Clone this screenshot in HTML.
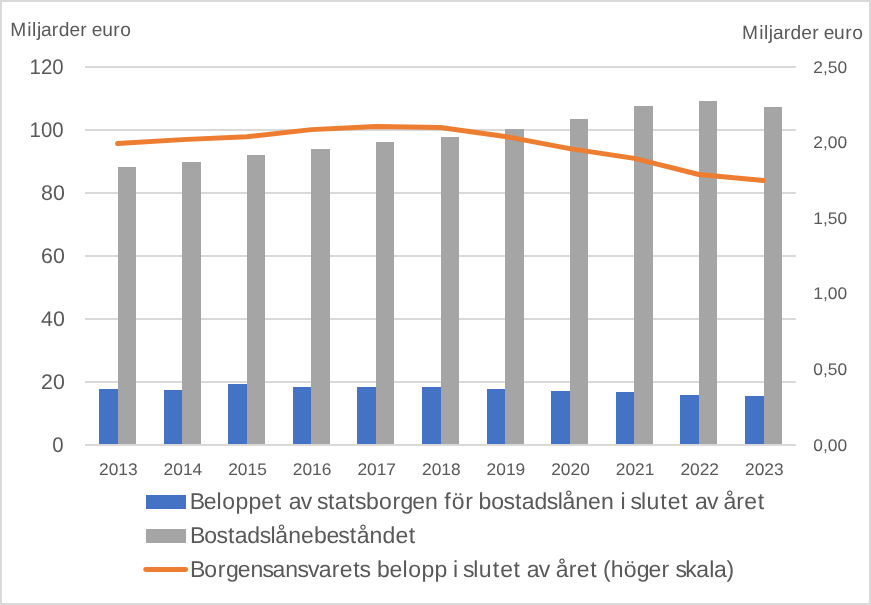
<!DOCTYPE html>
<html lang="sv"><head><meta charset="utf-8"><title>Miljarder euro</title>
<style>
html,body{margin:0;padding:0;background:#fff;}
body{width:871px;height:605px;overflow:hidden;}
svg{display:block;}
text{font-family:"Liberation Sans",sans-serif;fill:#595959;text-rendering:geometricPrecision;}
</style></head><body>
<svg width="871" height="605" viewBox="0 0 871 605">
<rect x="0" y="0" width="871" height="605" fill="#fff"/>
<rect x="1" y="1" width="869" height="603" fill="none" stroke="#D9D9D9" stroke-width="2"/>
<g stroke="#D9D9D9" stroke-width="2" fill="none">
<line x1="85.00" y1="445.00" x2="795.80" y2="445.00"/>
<line x1="85.00" y1="382.00" x2="795.80" y2="382.00"/>
<line x1="85.00" y1="319.00" x2="795.80" y2="319.00"/>
<line x1="85.00" y1="256.00" x2="795.80" y2="256.00"/>
<line x1="85.00" y1="193.00" x2="795.80" y2="193.00"/>
<line x1="85.00" y1="130.00" x2="795.80" y2="130.00"/>
<line x1="85.00" y1="67.00" x2="795.80" y2="67.00"/>
</g>
<g fill="#4472C4" shape-rendering="crispEdges">
<rect x="99" y="389" width="19" height="55"/>
<rect x="164" y="390" width="18" height="54"/>
<rect x="228" y="384" width="19" height="60"/>
<rect x="293" y="387" width="18" height="57"/>
<rect x="357" y="387" width="19" height="57"/>
<rect x="422" y="387" width="19" height="57"/>
<rect x="487" y="389" width="18" height="55"/>
<rect x="551" y="391" width="19" height="53"/>
<rect x="616" y="392" width="18" height="52"/>
<rect x="680" y="395" width="19" height="49"/>
<rect x="745" y="396" width="19" height="48"/>
</g>
<g fill="#A5A5A5" shape-rendering="crispEdges">
<rect x="118" y="167" width="18" height="277"/>
<rect x="182" y="162" width="19" height="282"/>
<rect x="247" y="155" width="18" height="289"/>
<rect x="311" y="149" width="19" height="295"/>
<rect x="376" y="142" width="18" height="302"/>
<rect x="441" y="137" width="18" height="307"/>
<rect x="505" y="129" width="19" height="315"/>
<rect x="570" y="119" width="18" height="325"/>
<rect x="634" y="106" width="19" height="338"/>
<rect x="699" y="101" width="18" height="343"/>
<rect x="764" y="107" width="18" height="337"/>
</g>
<path d="M117.50,143.55 L182.10,139.60 L246.70,136.80 L311.30,129.60 L375.90,126.50 L440.50,127.55 L505.10,136.50 L569.70,148.55 L634.30,158.45 L698.90,174.50 L763.50,180.50" fill="none" stroke="#ED7D31" stroke-width="4.9" stroke-linecap="round" stroke-linejoin="round"/>
<text x="52.25" y="452.30" font-size="21.20" text-anchor="start" textLength="11.35" lengthAdjust="spacingAndGlyphs">0</text>
<text x="41.05" y="389.30" font-size="21.20" text-anchor="start" textLength="23.80" lengthAdjust="spacingAndGlyphs">20</text>
<text x="41.05" y="326.30" font-size="21.20" text-anchor="start" textLength="23.80" lengthAdjust="spacingAndGlyphs">40</text>
<text x="41.05" y="263.30" font-size="21.20" text-anchor="start" textLength="23.80" lengthAdjust="spacingAndGlyphs">60</text>
<text x="41.05" y="200.30" font-size="21.20" text-anchor="start" textLength="23.80" lengthAdjust="spacingAndGlyphs">80</text>
<text x="29.55" y="137.30" font-size="21.20" text-anchor="start" textLength="34.05" lengthAdjust="spacingAndGlyphs">100</text>
<text x="29.55" y="74.30" font-size="21.20" text-anchor="start" textLength="34.05" lengthAdjust="spacingAndGlyphs">120</text>
<text x="813.30" y="450.90" font-size="16.80" text-anchor="start" textLength="33.80" lengthAdjust="spacingAndGlyphs">0,00</text>
<text x="813.30" y="375.30" font-size="16.80" text-anchor="start" textLength="33.80" lengthAdjust="spacingAndGlyphs">0,50</text>
<text x="813.30" y="298.75" font-size="16.80" text-anchor="start" textLength="33.80" lengthAdjust="spacingAndGlyphs">1,00</text>
<text x="813.30" y="224.10" font-size="16.80" text-anchor="start" textLength="33.80" lengthAdjust="spacingAndGlyphs">1,50</text>
<text x="813.30" y="147.55" font-size="16.80" text-anchor="start" textLength="33.80" lengthAdjust="spacingAndGlyphs">2,00</text>
<text x="813.30" y="72.90" font-size="16.80" text-anchor="start" textLength="33.80" lengthAdjust="spacingAndGlyphs">2,50</text>
<text x="99.00" y="475.20" font-size="16.80" text-anchor="start" textLength="38.60" lengthAdjust="spacingAndGlyphs">2013</text>
<text x="163.60" y="475.20" font-size="16.80" text-anchor="start" textLength="38.60" lengthAdjust="spacingAndGlyphs">2014</text>
<text x="228.20" y="475.20" font-size="16.80" text-anchor="start" textLength="38.60" lengthAdjust="spacingAndGlyphs">2015</text>
<text x="292.80" y="475.20" font-size="16.80" text-anchor="start" textLength="38.60" lengthAdjust="spacingAndGlyphs">2016</text>
<text x="357.40" y="475.20" font-size="16.80" text-anchor="start" textLength="38.60" lengthAdjust="spacingAndGlyphs">2017</text>
<text x="422.00" y="475.20" font-size="16.80" text-anchor="start" textLength="38.60" lengthAdjust="spacingAndGlyphs">2018</text>
<text x="486.60" y="475.20" font-size="16.80" text-anchor="start" textLength="38.60" lengthAdjust="spacingAndGlyphs">2019</text>
<text x="551.20" y="475.20" font-size="16.80" text-anchor="start" textLength="38.60" lengthAdjust="spacingAndGlyphs">2020</text>
<text x="615.80" y="475.20" font-size="16.80" text-anchor="start" textLength="38.60" lengthAdjust="spacingAndGlyphs">2021</text>
<text x="680.40" y="475.20" font-size="16.80" text-anchor="start" textLength="38.60" lengthAdjust="spacingAndGlyphs">2022</text>
<text x="745.00" y="475.20" font-size="16.80" text-anchor="start" textLength="38.60" lengthAdjust="spacingAndGlyphs">2023</text>
<g shape-rendering="crispEdges"><rect x="146" y="495" width="40" height="14" fill="#4472C4"/>
<rect x="146" y="529" width="40" height="14" fill="#A5A5A5"/></g>
<line x1="145.7" y1="569.5" x2="185.7" y2="569.5" stroke="#ED7D31" stroke-width="4.9" stroke-linecap="round"/>
<text x="10.21 27.29 32.05 36.94 40.95 51.85 58.64 69.40 80.27 86.66 91.67 102.13 113.37 120.32" y="36.00" font-size="19.20">Miljarder euro</text>
<text x="742.11 759.21 763.97 768.87 772.88 783.79 790.58 801.35 812.23 818.62 823.64 834.11 845.36 852.32" y="39.30" font-size="19.20">Miljarder euro</text>
<text x="189.69 203.64 216.53 222.16 235.47 248.60 261.27 274.75 281.14 288.63 300.67 312.17 317.07 328.01 334.84 348.36 355.09 365.96 378.95 392.45 400.58 412.28 425.11 437.90 444.30 451.63 465.13 472.79 478.38 491.37 503.60 515.03 521.86 534.49 546.86 557.71 562.48 575.36 588.10 600.93 613.72 620.52 625.63 630.52 640.88 646.40 660.33 667.67 681.14 687.53 695.02 707.06 718.56 723.50 736.29 744.34 757.82" y="509.00" font-size="23.00">Beloppet av statsborgen för bostadslånen i slutet av året</text>
<text x="189.95 204.24 216.47 227.90 234.73 247.36 259.73 270.58 275.35 288.23 300.97 313.90 326.54 338.37 349.80 356.63 369.50 382.39 395.38 408.85" y="543.00" font-size="23.00">Bostadslånebeståndet</text>
<text x="190.01 204.31 217.81 225.93 237.63 250.46 262.59 272.48 285.35 297.48 307.91 318.66 331.79 339.85 353.33 359.57 371.07 376.96 389.61 402.50 408.13 421.44 434.57 447.36 452.90 458.01 462.99 473.35 478.87 492.80 500.14 513.61 520.00 526.78 538.82 550.32 555.85 568.63 576.69 590.17 596.56 602.89 610.68 623.78 636.68 648.38 661.48 669.14 675.55 685.37 696.31 709.25 714.02 726.57" y="577.00" font-size="23.00">Borgensansvarets belopp i slutet av året (höger skala)</text>
</svg>
</body></html>
